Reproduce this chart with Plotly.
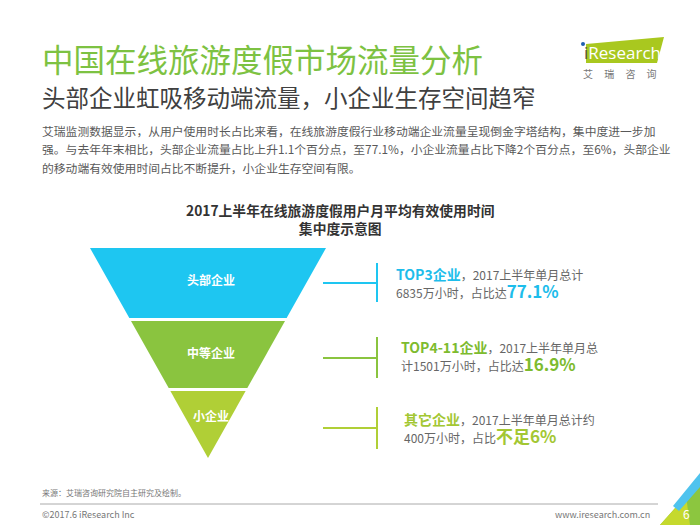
import numpy as np
import plotly.graph_objects as go

# data
segments = ["头部企业", "中等企业", "小企业"]
groups = ["TOP3企业", "TOP4-11企业", "其它企业"]
hours = [6835, 1501, 400]          # 万小时, 2017上半年单月总计
shares = ["77.1%", "16.9%", "不足6%"]
seg_colors = ["#1EC6F1", "#8AC43F", "#B0CF36"]
txt_colors = ["#1DBDEB", "#7DBB2E", "#A3C733"]

W, H = 700, 525
FONT = "Noto Sans CJK SC"
GRAY = "#595959"

fig = go.Figure()

# inverted triangle split in equal-height bands
top_y, apex_y, cx, half_w, gap = 248, 458, 208, 118, 3
bounds = np.linspace(top_y, apex_y, len(segments) + 1)
label_y = [279, 352, 415]


def half_width(y):
    return half_w * (apex_y - y) / (apex_y - top_y)


annotations = []
shapes = []
for i, seg in enumerate(segments):
    y0 = bounds[i] + (gap if i > 0 else 0)
    y1 = bounds[i + 1]
    w0, w1 = half_width(y0), half_width(y1)
    xs = [cx - w0, cx + w0, cx + w1, cx - w1, cx - w0]
    ys = [y0, y0, y1, y1, y0]
    fig.add_trace(go.Scatter(x=xs, y=ys, fill="toself", mode="lines",
                             line=dict(width=0), fillcolor=seg_colors[i],
                             hoverinfo="skip", showlegend=False))
    annotations.append(dict(x=cx + 3, y=label_y[i], text="<b>%s</b>" % seg,
                            showarrow=False, font=dict(size=12, color="white", family=FONT)))

# connectors and text blocks on the right
conn_y = [283, 358, 428]
vert = [(263, 302), (337, 378), (407, 449)]
text_x = [394, 399, 402]
block_y = [283, 356.5, 428]
line1_tail = ["，2017上半年单月总计", "，2017上半年单月总", "，2017上半年单月总计约"]
line2_head = ["%d万小时，占比达", "计%d万小时，占比达", "%d万小时，占比"]
small = "<span style='font-size:12px;color:#666666'>%s</span>"
for i in range(len(segments)):
    cy = conn_y[i]
    shapes.append(dict(type="line", x0=323, x1=377, y0=cy, y1=cy,
                       line=dict(color=seg_colors[i], width=2)))
    shapes.append(dict(type="line", x0=377, x1=377, y0=vert[i][0], y1=vert[i][1],
                       line=dict(color=seg_colors[i], width=2)))
    c = txt_colors[i]
    text = ("<b>%s</b>" % groups[i] + small % line1_tail[i] + "<br>"
            + small % (line2_head[i] % hours[i])
            + "<span style='font-size:17px'><b>%s</b></span>" % shares[i])
    annotations.append(dict(x=text_x[i], y=block_y[i], text=text, xanchor="left", align="left",
                            showarrow=False, font=dict(size=14, color=c, family=FONT)))

# headings
annotations.append(dict(x=40, y=58, text="中国在线旅游度假市场流量分析", xanchor="left", showarrow=False,
                        font=dict(size=31.5, color="#7DC242", family=FONT)))
annotations.append(dict(x=40, y=97, text="头部企业虹吸移动端流量，小企业生存空间趋窄", xanchor="left",
                        showarrow=False, font=dict(size=23.5, color="#404040", family=FONT)))
body = ["艾瑞监测数据显示，从用户使用时长占比来看，在线旅游度假行业移动端企业流量呈现倒金字塔结构，集中度进一步加",
        "强。与去年年末相比，头部企业流量占比上升1.1个百分点，至77.1%，小企业流量占比下降2个百分点，至6%，头部企业",
        "的移动端有效使用时间占比不断提升，小企业生存空间有限。"]
for k, line in enumerate(body):
    annotations.append(dict(x=40, y=130 + k * 18.5, text=line, xanchor="left", showarrow=False,
                            font=dict(size=11.8, color=GRAY, family=FONT)))

annotations.append(dict(x=340, y=219, text="<b>2017上半年在线旅游度假用户月平均有效使用时间<br>集中度示意图</b>",
                        showarrow=False, font=dict(size=13.8, color="#333333", family=FONT)))

# logo
shapes.append(dict(type="path", path="M 586 44 L 664 37 L 657 63 L 586 63 Z",
                   fillcolor="#A9C81F", line=dict(width=0)))
annotations.append(dict(x=582, y=52, text="<span style='color:#555555'>i</span>Research", xanchor="left",
                        showarrow=False, font=dict(size=17, color="white", family="Open Sans")))
shapes.append(dict(type="circle", x0=581, x1=585, y0=42, y1=46, fillcolor="#1F5FAF", line=dict(width=0)))
annotations.append(dict(x=620, y=73, text="艾 &nbsp; &nbsp; 瑞 &nbsp; &nbsp; 咨 &nbsp; &nbsp; 询", showarrow=False,
                        font=dict(size=10, color="#777777", family=FONT)))

# footer
annotations.append(dict(x=40, y=492, text="来源：艾瑞咨询研究院自主研究及绘制。", xanchor="left", showarrow=False,
                        font=dict(size=8, color="#777777", family=FONT)))
shapes.append(dict(type="line", x0=40, x1=658, y0=504, y1=504, line=dict(color="#AAAAAA", width=1)))
annotations.append(dict(x=40, y=514, text="©2017.6 iResearch Inc", xanchor="left", showarrow=False,
                        font=dict(size=9, color="#777777", family=FONT)))
annotations.append(dict(x=652, y=514, text="www.iresearch.com.cn", xanchor="right", showarrow=False,
                        font=dict(size=9, color="#777777", family=FONT)))
shapes.append(dict(type="path", path="M 660 525 L 700 480 L 700 525 Z", fillcolor="#8CC63F", line=dict(width=0)))
shapes.append(dict(type="path", path="M 660 525 L 686 496 L 690 525 Z", fillcolor="#C5D92D", line=dict(width=0)))
shapes.append(dict(type="path", path="M 673 506 L 700 473 L 700 487 L 679 511 Z", fillcolor="#4FC3EE",
                   line=dict(width=0)))
annotations.append(dict(x=686, y=513, text="6", showarrow=False,
                        font=dict(size=12, color="white", family=FONT)))

fig.update_layout(
    width=W, height=H, margin=dict(l=0, r=0, t=0, b=0),
    paper_bgcolor="white", plot_bgcolor="white",
    xaxis=dict(range=[0, W], visible=False, fixedrange=True),
    yaxis=dict(range=[H, 0], visible=False, fixedrange=True),
    shapes=shapes, annotations=annotations, showlegend=False,
)
# drop the default page margin so the slide sits at the window's corner
fig.write_html("out.html", config={"displayModeBar": False},
               post_script="document.body.style.margin = '0';")
